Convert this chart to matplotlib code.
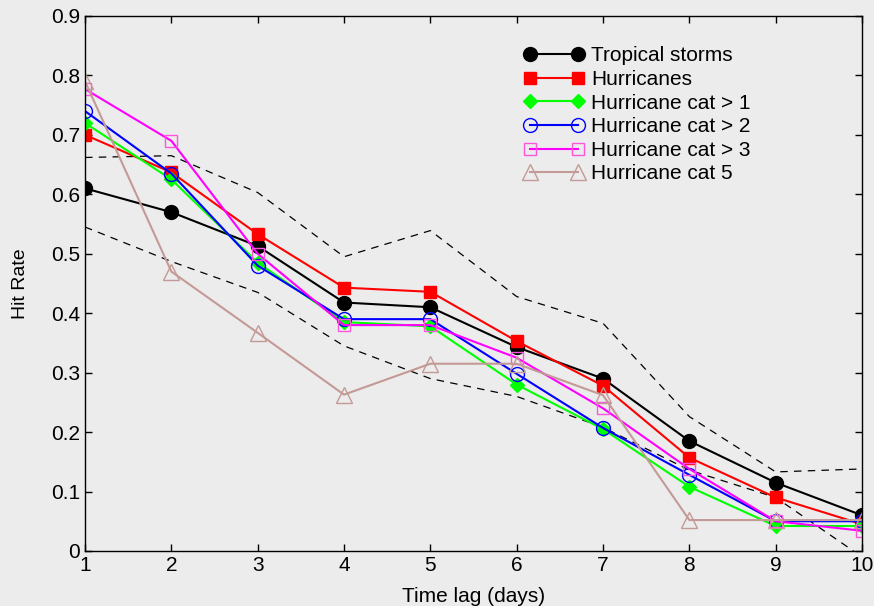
import numpy as np
import matplotlib
matplotlib.use('Agg')
import matplotlib.pyplot as plt

plt.rcParams['font.family'] = ['Liberation Sans', 'DejaVu Sans']

lag = [1, 2, 3, 4, 5, 6, 7, 8, 9, 10]

tropical = [0.61, 0.57, 0.513, 0.418, 0.41, 0.343, 0.29, 0.185, 0.115, 0.06]
hurricanes = [0.70, 0.637, 0.533, 0.443, 0.436, 0.353, 0.278, 0.157, 0.09, 0.045]
cat1 = [0.72, 0.625, 0.485, 0.385, 0.378, 0.28, 0.205, 0.108, 0.042, 0.042]
cat2 = [0.74, 0.635, 0.48, 0.39, 0.39, 0.298, 0.207, 0.128, 0.05, 0.05]
cat3 = [0.777, 0.69, 0.50, 0.38, 0.38, 0.325, 0.24, 0.138, 0.05, 0.034]
cat5 = [0.79, 0.47, 0.367, 0.263, 0.315, 0.315, 0.262, 0.052, 0.052, 0.052]

upper = [0.662, 0.665, 0.603, 0.495, 0.539, 0.428, 0.383, 0.226, 0.133, 0.138]
lower = [0.545, 0.487, 0.435, 0.345, 0.29, 0.26, 0.208, 0.136, 0.09, -0.01]

bg = '#ececec'
fig = plt.figure(figsize=(8.74, 6.06), dpi=100, facecolor=bg)
ax = fig.add_axes([0.0973, 0.0908, 0.889, 0.8828], facecolor=bg)

ax.plot(lag, upper, color='k', ls=(0, (6, 5)), lw=0.9)
ax.plot(lag, lower, color='k', ls=(0, (6, 5)), lw=0.9)

ax.plot(lag, tropical, color='k', marker='o', ms=10, lw=1.5, label='Tropical storms')
ax.plot(lag, hurricanes, color='red', marker='s', ms=8, lw=1.5, label='Hurricanes')
ax.plot(lag, cat1, color='#00ff00', marker='D', ms=7, lw=1.5, label='Hurricane cat > 1')
ax.plot(lag, cat2, color='blue', marker='o', ms=10, mfc='none', lw=1.5,
        label='Hurricane cat > 2')
ax.plot(lag, cat3, color='#ff00ff', marker='s', ms=9, mfc='none', mec='#ff55dd', lw=1.5,
        label='Hurricane cat > 3')
ax.plot(lag, cat5, color='#c39a96', marker='^', ms=11, mfc='none', lw=1.5,
        label='Hurricane cat 5')

ax.set_xlim(1, 10)
ax.set_ylim(0, 0.9)
ax.set_xticks(lag)
ax.set_yticks(np.arange(0, 0.91, 0.1))
ax.set_yticklabels(['0', '0.1', '0.2', '0.3', '0.4', '0.5', '0.6', '0.7', '0.8', '0.9'])
ax.tick_params(direction='in', top=True, right=True, labelsize=15, length=5, width=1)
for s in ax.spines.values():
    s.set_linewidth(1)
ax.set_xlabel('Time lag (days)', fontsize=15, labelpad=9)
ax.set_ylabel('Hit Rate', fontsize=14, labelpad=16)

leg = ax.legend(loc='upper left', bbox_to_anchor=(0.564, 0.943), frameon=False, numpoints=2,
                fontsize=15, handlelength=2.95, handletextpad=0.3, labelspacing=0.22,
                borderpad=0, borderaxespad=0)

fig.savefig('out.png', dpi=100, facecolor=bg)
